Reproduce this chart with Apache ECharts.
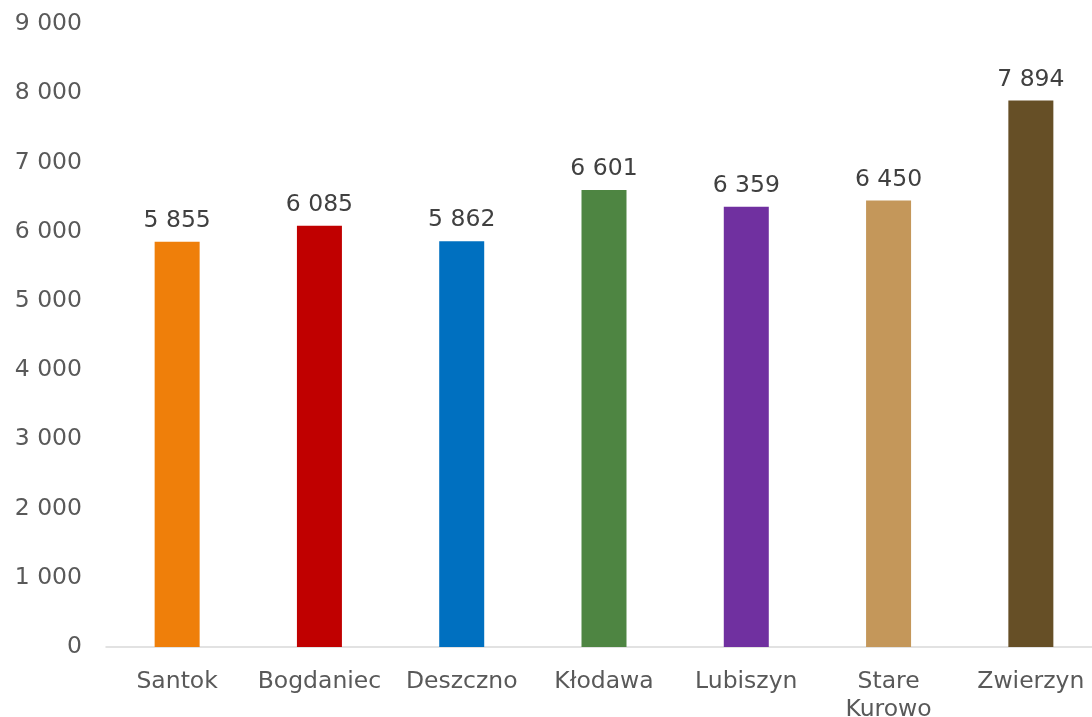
<!DOCTYPE html>
<html><head><meta charset="utf-8">
<script src="https://cdn.jsdelivr.net/npm/echarts@6/dist/echarts.min.js"></script>
<style>html,body{margin:0;padding:0;background:#fff}#c{width:1092px;height:717px}</style>
</head><body><div id="c"></div>
<script>
const categories = ['Santok','Bogdaniec','Deszczno','Kłodawa','Lubiszyn','Stare\nKurowo','Zwierzyn'];
const values = [5855, 6085, 5862, 6601, 6359, 6450, 7894];
const colors = ['#EF7F0A','#C00000','#0070C0','#4E8542','#7030A0','#C4975A','#664F26'];
const fmt = v => String(v).replace(/\B(?=(\d{3})+(?!\d))/g, ' ');
const chart = echarts.init(document.getElementById('c'));
chart.setOption({
  animation: false,
  textStyle: {fontFamily: 'DejaVu Sans'},
  grid: {left: 106, top: 24, width: 996, bottom: 70, containLabel: false, outerBoundsMode: 'none'},
  xAxis: {
    type: 'category', data: categories,
    axisLine: {lineStyle: {color: '#D9D9D9', width: 1.5}},
    axisTick: {show: false},
    axisLabel: {color: '#595959', fontSize: 23.5, margin: 21, lineHeight: 28, interval: 0}
  },
  yAxis: {
    type: 'value', min: 0, max: 9000, interval: 1000,
    splitLine: {show: false}, axisLine: {show: false}, axisTick: {show: false},
    axisLabel: {color: '#595959', fontSize: 23.5, margin: 24, formatter: fmt}
  },
  series: [{
    type: 'bar', barWidth: 45,
    data: values.map((v, i) => ({value: v, itemStyle: {color: colors[i]}})),
    label: {show: true, position: 'top', distance: 9, color: '#404040', fontSize: 23.5,
      formatter: p => fmt(p.value)}
  }]
});
</script></body></html>
